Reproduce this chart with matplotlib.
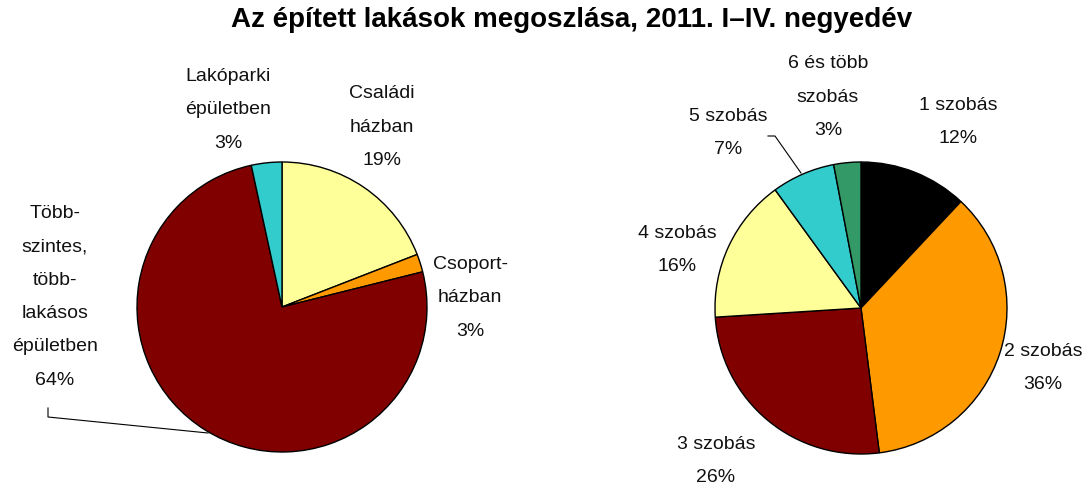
import matplotlib.pyplot as plt

plt.rcParams['font.family'] = ['Liberation Sans', 'DejaVu Sans']

# left pie: type of building (slice sizes)
left_vals = [19.1, 2.0, 75.5, 3.4]
left_labels = ['Családi\nházban\n19%', 'Csoport-\nházban\n3%',
               'Több-\nszintes,\ntöbb-\nlakásos\népületben\n64%',
               'Lakóparki\népületben\n3%']
left_colors = ['#FFFF99', '#FF9900', '#800000', '#33CCCC']

# right pie: number of rooms
right_vals = [12, 36, 26, 16, 7, 3]
right_labels = ['1 szobás\n12%', '2 szobás\n36%', '3 szobás\n26%',
                '4 szobás\n16%', '5 szobás\n7%', '6 és több\nszobás\n3%']
right_colors = ['#000000', '#FF9900', '#800000', '#FFFF99', '#33CCCC', '#339966']

W, H = 1086, 488
fig = plt.figure(figsize=(W / 100, H / 100), dpi=100)
ax = fig.add_axes([0, 0, 1, 1])

wp = dict(edgecolor='black', linewidth=1.0)
ax.pie(left_vals, colors=left_colors, center=(282, H - 307), radius=145,
       startangle=90, counterclock=False, wedgeprops=wp)
ax.pie(right_vals, colors=right_colors, center=(861, H - 308), radius=146,
       startangle=90, counterclock=False, wedgeprops=wp)

ax.set_xlim(0, W)
ax.set_ylim(0, H)
ax.set_aspect('equal')
ax.axis('off')

# label positions (pixel coords, y from top)
left_pos = [(382, 127), (470, 298), (55, 297), (228, 110)]
right_pos = [(958, 122), (1043, 368), (716, 461), (677, 250), (728, 133), (828, 97)]

for txt, (x, y) in zip(left_labels + right_labels, left_pos + right_pos):
    ax.text(x, H - y, txt, ha='center', va='center', fontsize=14,
            linespacing=2.25, color='#111111')

# leader lines
ax.plot([48, 48, 208], [H - 408, H - 417, H - 433], color='black', lw=0.8)
ax.plot([768, 775, 801], [H - 136, H - 136, H - 173], color='black', lw=0.8)

fig.text(572 / W, 1 - 20 / H, 'Az épített lakások megoszlása, 2011. I–IV. negyedév',
         ha='center', va='center', fontsize=20, fontweight='bold')

fig.savefig('out.png', dpi=100)
